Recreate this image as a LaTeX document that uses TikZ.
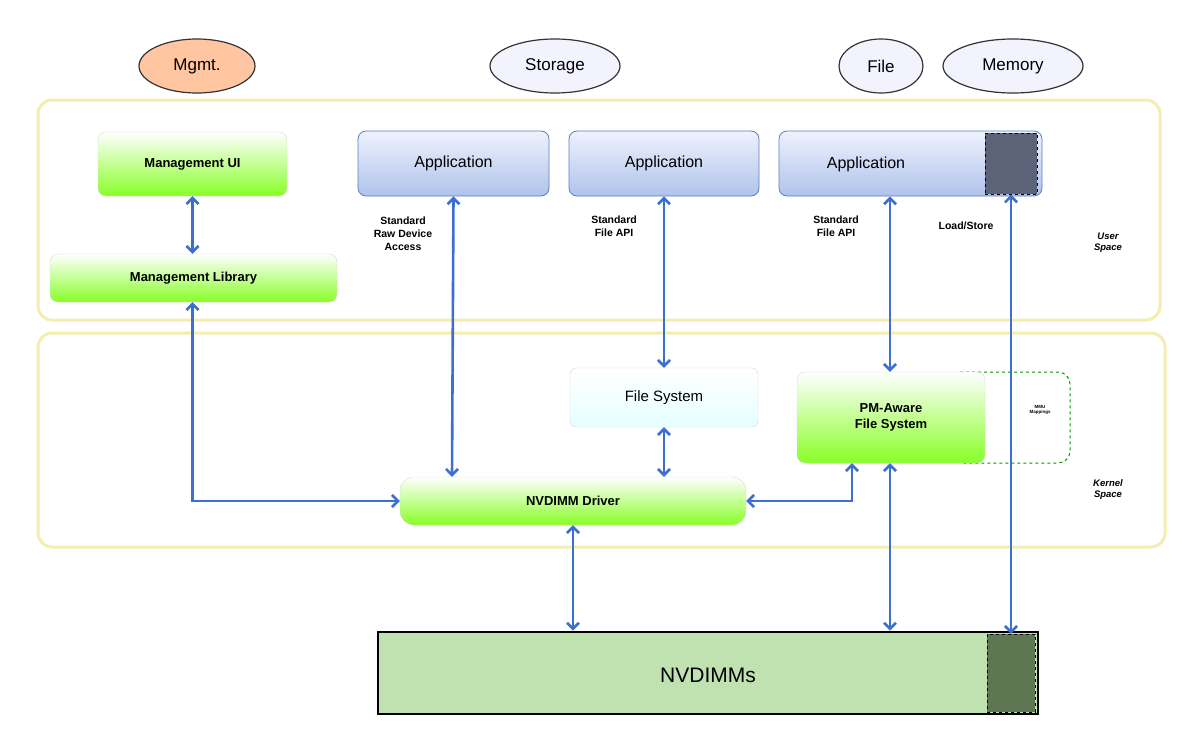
\documentclass[tikz,border=0pt]{standalone}
\usepackage{fontspec}
\setmainfont{Liberation Sans}
\usetikzlibrary{arrows.meta,shapes.geometric}
\definecolor{arr}{HTML}{3D6FD0}
\definecolor{ylw}{HTML}{F3EDB0}
\definecolor{appb}{HTML}{5B7FC0}
\definecolor{appt}{HTML}{EEF2FC}
\definecolor{appbot}{HTML}{AFC3EC}
\definecolor{dkapp}{HTML}{5C6378}
\definecolor{dknv}{HTML}{5E7752}
\definecolor{nvf}{HTML}{C0E2B0}
\begin{document}
\begin{tikzpicture}[x=1pt,y=-1pt,
 oval/.style={ellipse,draw=black!80,line width=1.2pt,fill=#1,font=\fontsize{17}{19}\selectfont},
 area/.style={draw=ylw,line width=3pt,rounded corners=14pt},
 gbox/.style={rounded corners=8pt,draw=white!85!black,top color=white,bottom color=green!55!yellow!85!white,font=\bfseries\fontsize{13}{16}\selectfont,align=center},
 abox/.style={rounded corners=8pt,draw=appb,line width=0.8pt,top color=appt,bottom color=appbot,font=\fontsize{16}{18}\selectfont},
 lbl/.style={font=\bfseries\fontsize{10.5}{13}\selectfont,align=center},
 sp/.style={font=\bfseries\itshape\fontsize{9.5}{11}\selectfont,align=center},
 ar/.style={draw=arr,line width=2.6pt,{Straight Barb[length=6pt,width=12pt]}-{Straight Barb[length=6pt,width=12pt]}}]
\useasboundingbox (0,0) rectangle (1200,731);
\node[oval=orange!35!red!30!white!90!yellow,minimum width=116pt,minimum height=54pt] (mg) at (197,66) {Mgmt.};
\node[oval=gray!15!blue!5,minimum width=130pt,minimum height=54pt] (st) at (555,66) {Storage};
\node[oval=gray!15!blue!5,minimum width=84pt,minimum height=54pt] (fi) at (881,66) {File};
\node[oval=gray!15!blue!5,minimum width=140pt,minimum height=54pt] (me) at (1013,66) {Memory};
\draw[area] (38,100) rectangle (1160,320);
\draw[area] (38,333) rectangle (1165,547);
\node[gbox,minimum width=189pt,minimum height=64pt] (mui) at (192.5,164) {Management UI};
\node[gbox,minimum width=287pt,minimum height=48pt] (mlib) at (193.5,278) {Management Library};
\node[abox,minimum width=191pt,minimum height=65pt] (a1) at (453.5,163.5) {Application};
\node[abox,minimum width=190pt,minimum height=65pt] (a2) at (664,163.5) {Application};
\node[abox,minimum width=263pt,minimum height=65pt] (a3) at (910.5,163.5) {};
\node[font=\fontsize{16}{18}\selectfont] (a3t) at (866,164) {Application};
\node[draw=black,dashed,line width=1pt,fill=dkapp,minimum width=52pt,minimum height=61pt,inner sep=0pt] (dk) at (1011,163.5) {};
\node[rounded corners=6pt,draw=white!85!black,top color=white,bottom color=cyan!10,font=\fontsize{15}{17}\selectfont,minimum width=188pt,minimum height=59pt] (fs) at (664,397.5) {File System};
\draw[green!60!black,dashed,line width=1pt,rounded corners=12pt] (960,372) -- (1070,372) -- (1070,463) -- (960,463);
\node[gbox,minimum width=188pt,minimum height=91pt] (pm) at (891,417.5) {PM-Aware\\File System};
\node[font=\bfseries\fontsize{4.5}{5.5}\selectfont,align=center] (mmu) at (1040,410) {MMU\\Mappings};
\node[gbox,minimum width=346pt,minimum height=48pt,rounded corners=14pt] (drv) at (573,501) {NVDIMM Driver};
\node[draw=black,line width=2.8pt,fill=nvf,minimum width=660pt,minimum height=82pt,inner sep=0pt] (nv) at (708,673) {};
\node[font=\fontsize{21}{24}\selectfont] (nvt) at (708,675) {NVDIMMs};
\node[draw=black,dashed,fill=dknv,minimum width=48pt,minimum height=78pt,inner sep=0pt] (nvd) at (1011,673) {};
\node[lbl] (l1) at (403,234) {Standard\\Raw Device\\Access};
\node[lbl] (l2) at (614,226) {Standard\\File API};
\node[lbl] (l3) at (836,226) {Standard\\File API};
\node[lbl] (l4) at (966,226) {Load/Store};
\node[sp] (us) at (1108,243) {User\\Space};
\node[sp] (ks) at (1108,490) {Kernel\\Space};
\draw[ar] (mui.south) -- (mlib.north -| mui.south);
\draw[ar] (mlib.south -| mui.south) |- (drv.west);
\draw[ar] (a1.south) -- (drv.north -| 452,0);
\draw[ar] (a2.south -| fs.north) -- (fs.north);
\draw[ar] (fs.south) -- (drv.north -| fs.south);
\draw[ar] (drv.east) -| (pm.south -| 852,0);
\draw[ar] (a3.south -| 890,0) -- (pm.north -| 890,0);
\draw[ar] (pm.south -| 890,0) -- (nv.north -| 890,0);
\draw[ar] (dk.south) -- (nvd.north);
\draw[ar] (drv.south) -- (nv.north -| drv.south);
\end{tikzpicture}
\end{document}
